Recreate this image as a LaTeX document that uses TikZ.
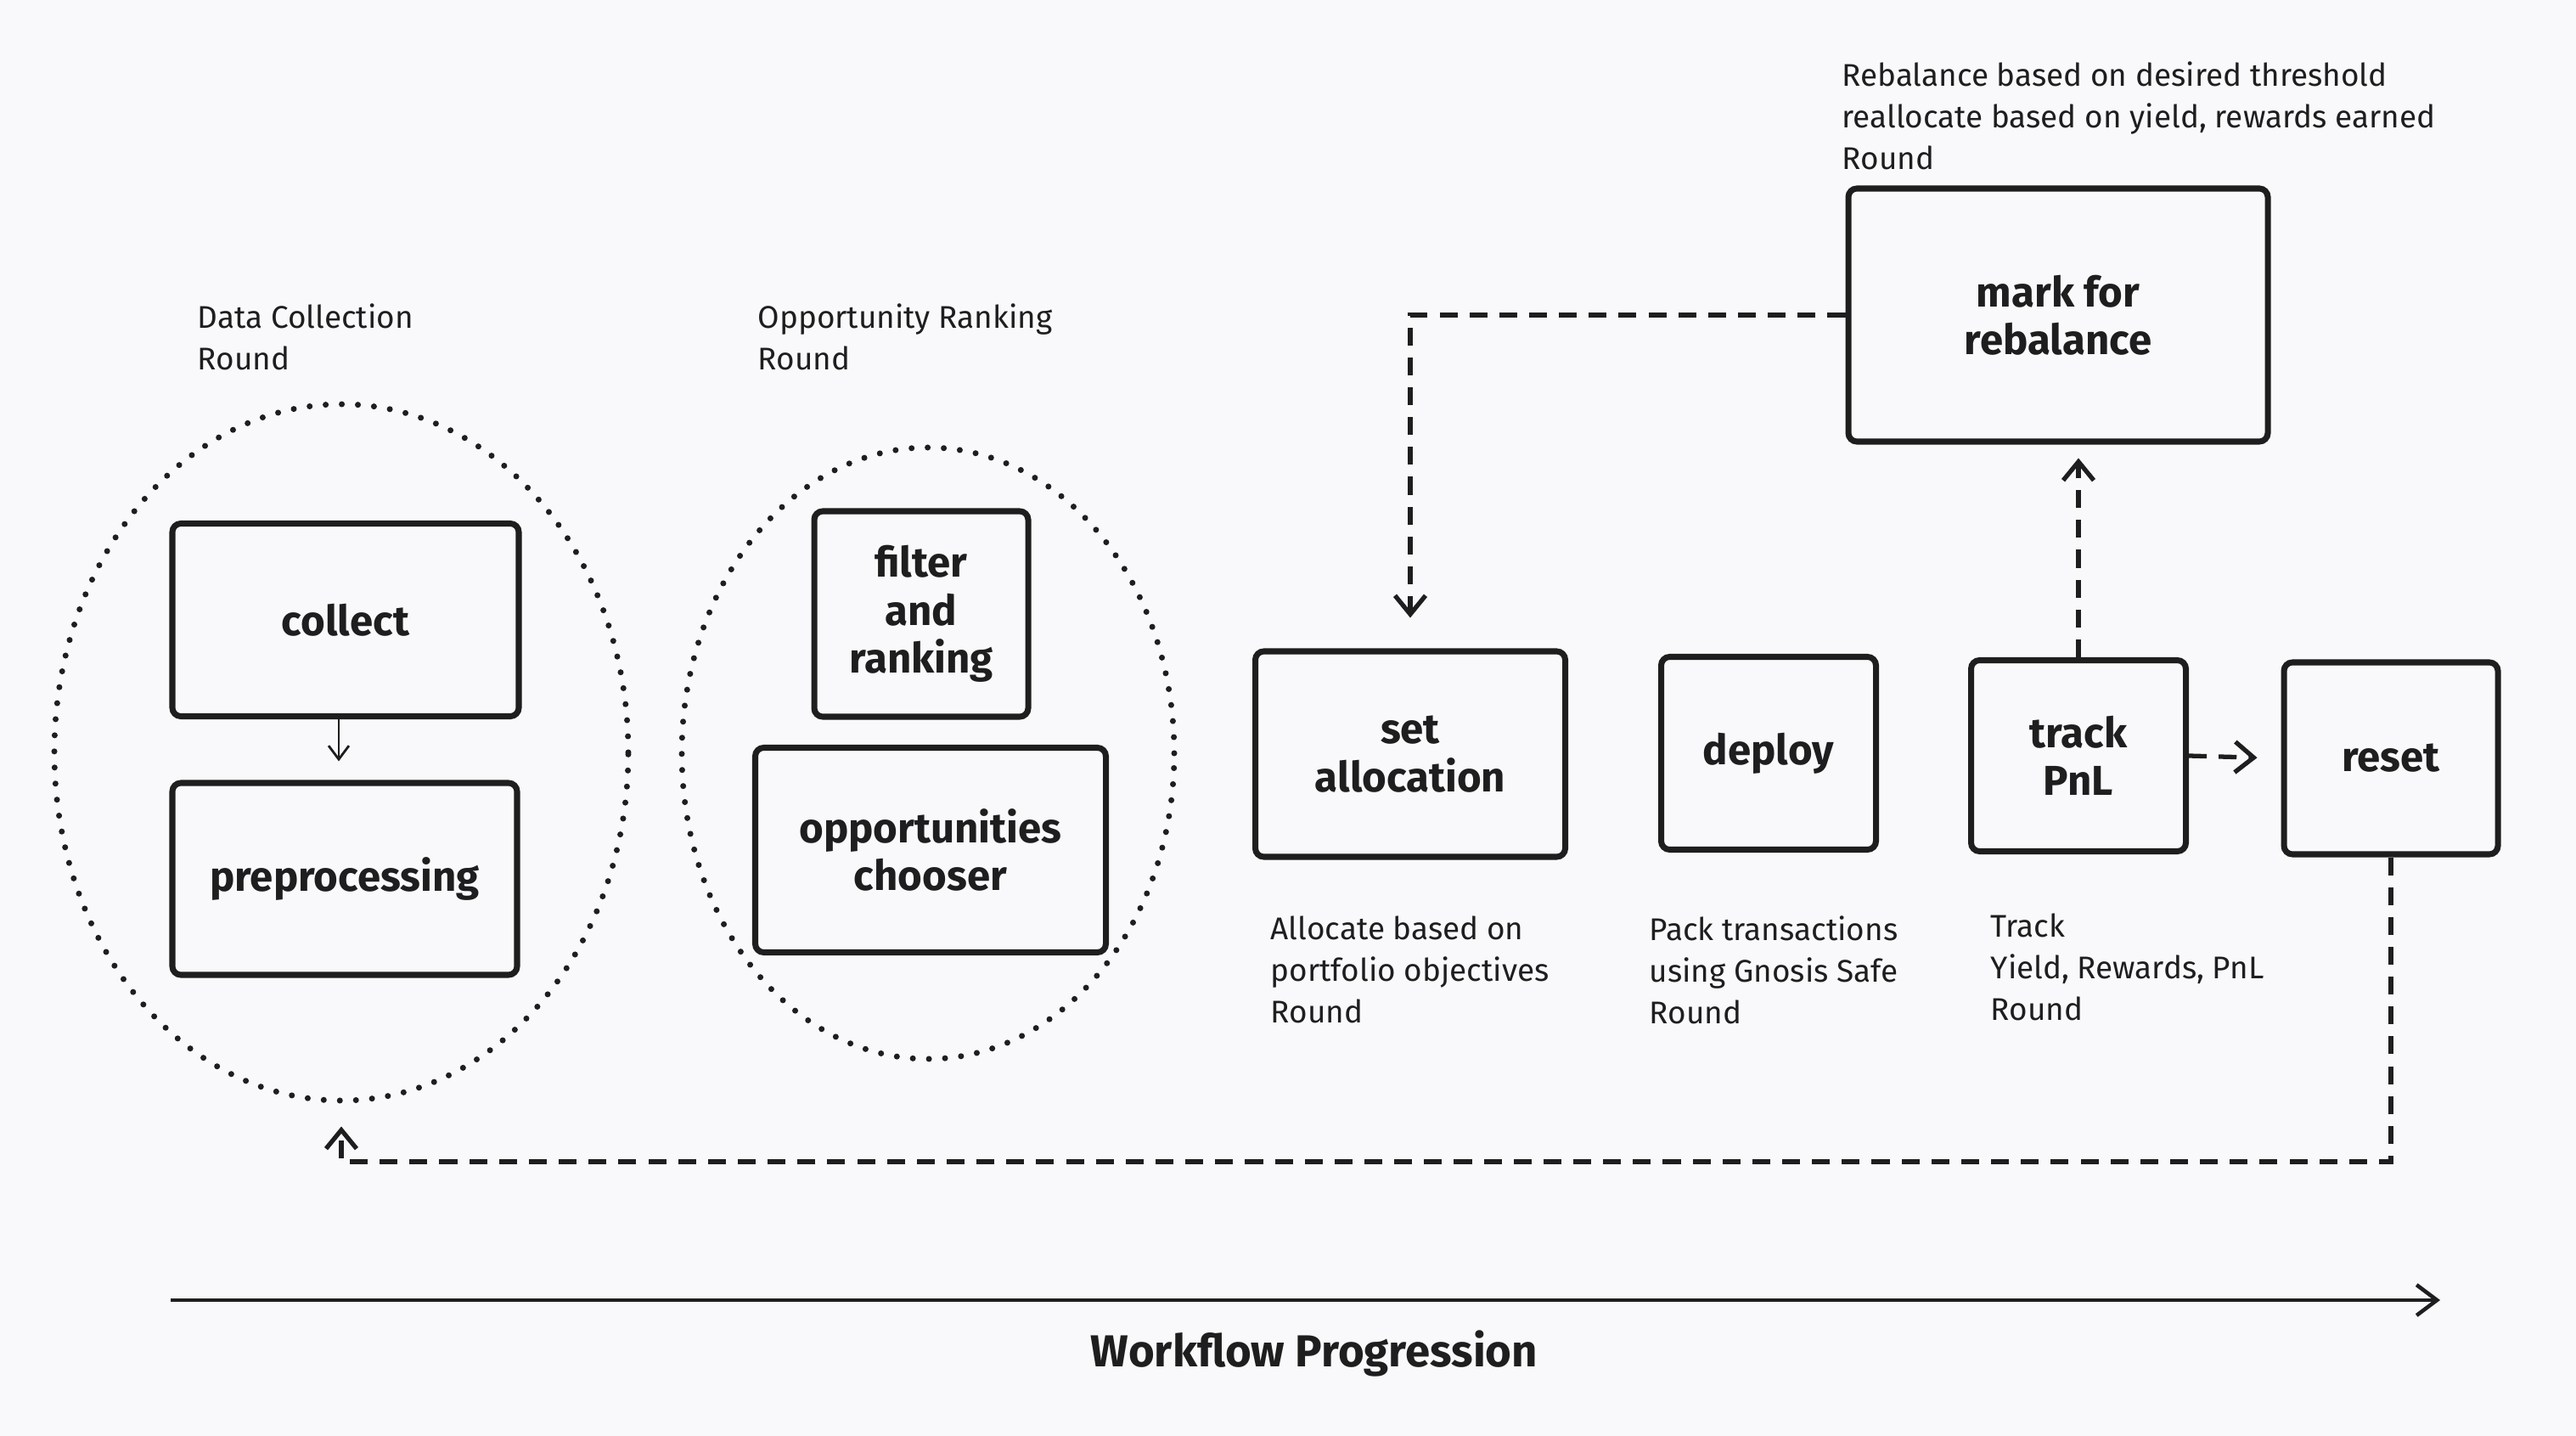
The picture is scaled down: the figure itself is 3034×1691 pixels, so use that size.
\documentclass[tikz,border=0pt]{standalone}
\usepackage{fontspec}
\setmainfont{Fira Sans}
\usetikzlibrary{arrows.meta,shapes.geometric}
\definecolor{ink}{HTML}{1E1E1E}
\definecolor{paper}{HTML}{F9F9FB}
\tikzset{
  box/.style={draw=ink, line width=2pt, rounded corners=1mm, inner sep=0pt, align=center,
    font=\fontsize{14}{16}\selectfont\bfseries, text=ink},
  dotring/.style={draw=ink, ellipse, line width=2pt, line cap=round, dash pattern=on 0pt off 5.4pt, inner sep=0pt},
  flowdash/.style={draw=ink, line width=1.5pt, dash pattern=on 6pt off 4pt, -{Straight Barb[length=2.2mm,width=3.6mm,line width=1.5pt]}},
  thinarrow/.style={draw=ink, line width=0.8pt, -{Straight Barb[length=1.6mm,width=2.4mm]}},
  axisarrow/.style={draw=ink, line width=1.3pt, -{Straight Barb[length=2.4mm,width=3.6mm,line width=1.3pt]}},
  note/.style={align=left, inner sep=0pt, anchor=west, font=\fontsize{10.5}{13.9}\selectfont, text=ink},
}
\begin{document}
\begin{tikzpicture}[x=0.1mm,y=-0.1mm]
\fill[paper] (0,0) rectangle (3034,1691);
\useasboundingbox (0,0) rectangle (3034,1691);

% rings
\node[dotring, minimum width=67.6mm, minimum height=82mm] (dc) at (402,886) {};
\node[dotring, minimum width=58mm, minimum height=72mm] (orr) at (1093,887) {};

% boxes
\node[box, minimum width=40.8mm, minimum height=22.7mm] (collect) at (407,730) {collect};
\node[box, minimum width=40.6mm, minimum height=22.6mm] (preproc) at (406,1035) {preprocessing};
\node[box, minimum width=25.2mm, minimum height=24.2mm] (filter) at (1085,723) {filter\\and\\ranking};
\node[box, minimum width=41.3mm, minimum height=24.1mm] (chooser) at (1096,1001) {opportunities\\chooser};
\node[box, minimum width=36.5mm, minimum height=24.2mm] (setalloc) at (1661,888) {set\\allocation};
\node[box, minimum width=25.3mm, minimum height=22.7mm] (deploy) at (2083,887) {deploy};
\node[box, minimum width=25.3mm, minimum height=22.5mm] (track) at (2448,890) {track\\PnL};
\node[box, minimum width=25.2mm, minimum height=22.6mm] (reset) at (2816,893) {reset};
\node[box, minimum width=49.4mm, minimum height=29.8mm] (mark) at (2424,371) {mark for\\rebalance};

% labels
\node[note] (ldc) at (232,397) {Data Collection\\Round};
\node[note] (lor) at (892,397) {Opportunity Ranking\\Round};
\node[note] (lrb) at (2169,136) {Rebalance based on desired threshold\\reallocate based on yield, rewards earned\\Round};
\node[note] (lsa) at (1496,1142) {Allocate based on\\portfolio objectives\\Round};
\node[note] (ldp) at (1942,1142) {Pack transactions\\using Gnosis Safe\\Round};
\node[note] (ltr) at (2344,1139) {Track\\Yield, Rewards, PnL\\Round};

% connectors
\coordinate (cpx) at (399,0);
\draw[thinarrow, shorten >=2.2mm] (collect.south -| cpx) -- (preproc.north -| cpx);
\draw[flowdash, shorten >=3.6mm] (mark.west) -| (setalloc.north);
\draw[flowdash, shorten >=1.6mm] (track.north) -- (track.north |- mark.south);
\draw[flowdash, shorten >=2.8mm] (track.east) -- (reset.west);
\coordinate (loopy) at (0,1368);
\draw[flowdash, shorten >=2.7mm] (reset.south) -- (reset.south |- loopy) -| (dc.south);

% axis
\coordinate (axs) at (201,1531);
\coordinate (axe) at (2874,1531);
\draw[axisarrow] (axs) -- (axe);
\node[font=\fontsize{15}{17}\selectfont\bfseries, text=ink] (wf) at (1548,1594) {Workflow Progression};
\end{tikzpicture}
\end{document}
